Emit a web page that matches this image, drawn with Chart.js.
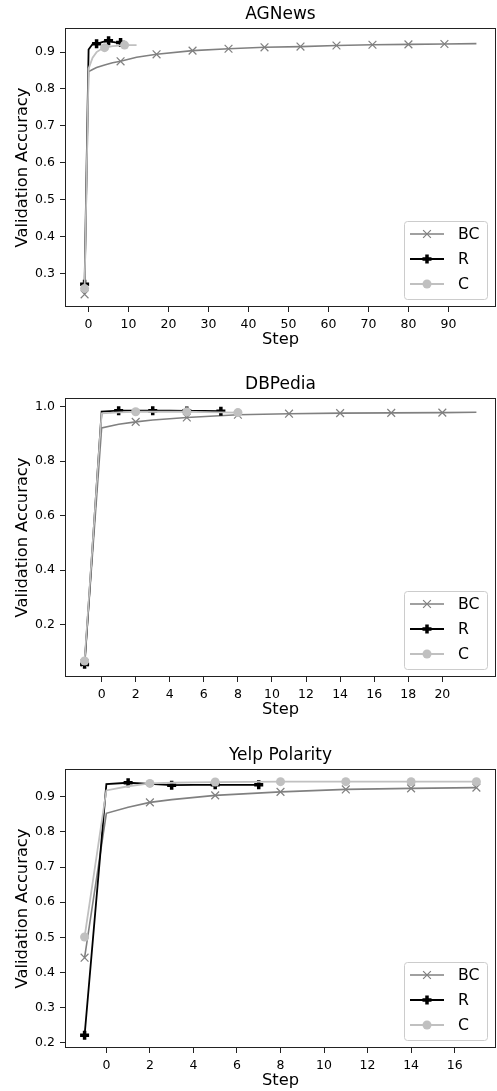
<!DOCTYPE html>
<html>
<head>
<meta charset="utf-8">
<script src="https://cdn.jsdelivr.net/npm/chart.js@4"></script>
<style>
  html, body { margin: 0; background: #fff; overflow: hidden; }
  canvas { position: absolute; left: 0; }
</style>
</head>
<body>
<canvas id="agChart" width="497" height="350" style="top:0px"></canvas>
<canvas id="dbChart" width="497" height="350" style="top:370px"></canvas>
<canvas id="yelpChart" width="497" height="350" style="top:741px"></canvas>
<script>
// AGNews
const agBcSteps = [-1, 0, 1, 2, 4, 6, 8, 12, 17, 26, 35, 44, 53, 62, 71, 80, 89, 97];
const agBcAcc   = [0.243, 0.847, 0.853, 0.858, 0.865, 0.871, 0.875, 0.886, 0.894, 0.904, 0.909, 0.913, 0.915, 0.918, 0.920, 0.921, 0.922, 0.923];
const agRSteps  = [-1, 0, 1, 2, 3, 4, 5, 6, 7, 8];
const agRAcc    = [0.270, 0.907, 0.922, 0.923, 0.926, 0.929, 0.931, 0.928, 0.926, 0.926];
const agCSteps  = [-1, 0, 1, 2, 3, 4, 5, 6, 7, 8, 9, 10, 11, 12];
const agCAcc    = [0.259, 0.855, 0.885, 0.900, 0.907, 0.912, 0.914, 0.916, 0.917, 0.918, 0.919, 0.919, 0.919, 0.919];
const agXTicks  = [0, 10, 20, 30, 40, 50, 60, 70, 80, 90];
const agYTicks  = [0.3, 0.4, 0.5, 0.6, 0.7, 0.8, 0.9];

// DBPedia
const dbBcSteps = [-1, 0, 1, 2, 3, 5, 8, 11, 14, 17, 20, 22];
const dbBcAcc   = [0.060, 0.922, 0.935, 0.944, 0.951, 0.960, 0.970, 0.974, 0.976, 0.977, 0.978, 0.979];
const dbRSteps  = [-1, 0, 1, 2, 3, 4, 5, 6, 7];
const dbRAcc    = [0.055, 0.982, 0.985, 0.985, 0.985, 0.985, 0.984, 0.984, 0.983];
const dbCSteps  = [-1, 0, 1, 2, 3, 4, 5, 6, 7, 8];
const dbCAcc    = [0.067, 0.975, 0.979, 0.981, 0.981, 0.981, 0.981, 0.980, 0.979, 0.978];
const dbXTicks  = [0, 2, 4, 6, 8, 10, 12, 14, 16, 18, 20];
const dbYTicks  = [0.2, 0.4, 0.6, 0.8, 1.0];

// Yelp Polarity
const yelpBcSteps = [-1, 0, 1, 2, 3, 5, 8, 11, 14, 17];
const yelpBcAcc   = [0.442, 0.853, 0.870, 0.884, 0.892, 0.904, 0.914, 0.921, 0.924, 0.926];
const yelpRSteps  = [-1, 0, 1, 2, 3, 4, 5, 6, 7];
const yelpRAcc    = [0.221, 0.936, 0.940, 0.937, 0.933, 0.934, 0.934, 0.934, 0.934];
const yelpCSteps  = [-1, 0, 1, 2, 3, 4, 5, 8, 11, 14, 17];
const yelpCAcc    = [0.501, 0.918, 0.930, 0.938, 0.940, 0.941, 0.942, 0.943, 0.943, 0.943, 0.943];
const yelpXTicks  = [0, 2, 4, 6, 8, 10, 12, 14, 16];
const yelpYTicks  = [0.2, 0.3, 0.4, 0.5, 0.6, 0.7, 0.8, 0.9];

const FONT = "'DejaVu Sans', 'Noto Sans', sans-serif";
Chart.defaults.font.family = FONT;
Chart.defaults.color = '#000';

const STYLES = {
    BC: { color: '#808080', width: 1.6, point: 'crossRot', radius: 5.5, pointWidth: 1.2, order: 2 },
    R:  { color: '#000000', width: 1.8, point: 'cross', radius: 4.5, pointWidth: 3.5, order: 1 },
    C:  { color: '#c0c0c0', width: 1.8, point: 'circle', radius: 4.5, pointWidth: 0, order: 0 }
};

function series(label, steps, acc, every) {
    const s = STYLES[label];
    return {
        label: label,
        data: steps.map((x, i) => ({ x: x, y: acc[i] })),
        borderColor: s.color,
        backgroundColor: s.color,
        borderWidth: s.width,
        pointStyle: s.point,
        pointBorderColor: s.color,
        pointBackgroundColor: s.color,
        pointBorderWidth: s.pointWidth,
        pointRadius: ctx => ((ctx.raw.x - steps[0]) % every === 0 ? s.radius : 0),
        tension: 0,
        order: s.order
    };
}

function drawMarker(ctx, label, x, y) {
    const s = STYLES[label];
    ctx.save();
    ctx.strokeStyle = s.color;
    ctx.fillStyle = s.color;
    if (s.point === 'crossRot') {
        const d = s.radius * Math.SQRT1_2;
        ctx.lineWidth = s.pointWidth;
        ctx.beginPath();
        ctx.moveTo(x - d, y - d); ctx.lineTo(x + d, y + d);
        ctx.moveTo(x - d, y + d); ctx.lineTo(x + d, y - d);
        ctx.stroke();
    } else if (s.point === 'cross') {
        ctx.lineWidth = s.pointWidth;
        ctx.beginPath();
        ctx.moveTo(x - s.radius, y); ctx.lineTo(x + s.radius, y);
        ctx.moveTo(x, y - s.radius); ctx.lineTo(x, y + s.radius);
        ctx.stroke();
    } else {
        ctx.beginPath();
        ctx.arc(x, y, s.radius, 0, Math.PI * 2);
        ctx.fill();
    }
    ctx.restore();
}

const framePlugin = {
    id: 'frame',
    afterDatasetsDraw(chart) {
        const a = chart.chartArea;
        const ctx = chart.ctx;
        ctx.save();
        ctx.strokeStyle = '#222';
        ctx.lineWidth = 1;
        const l = Math.round(a.left) + 0.5, t = Math.round(a.top) + 0.5;
        const r = Math.round(a.right) - 0.5, b = Math.round(a.bottom) - 0.5;
        ctx.strokeRect(l, t, r - l, b - t);
        ctx.restore();
    },
    afterDraw(chart) {
        // legend in the lower right of the plot area
        const a = chart.chartArea;
        const ctx = chart.ctx;
        const w = 83, h = 78;
        const bx = a.right - 9 - w, by = a.bottom - 8 - h;
        ctx.save();
        ctx.fillStyle = 'rgba(255,255,255,0.85)';
        ctx.strokeStyle = '#cccccc';
        ctx.lineWidth = 1;
        ctx.beginPath();
        ctx.roundRect(Math.round(bx) + 0.5, Math.round(by) + 0.5, w, h, 3);
        ctx.fill();
        ctx.stroke();
        ['BC', 'R', 'C'].forEach((label, i) => {
            const s = STYLES[label];
            const y = by + 13 + i * 25;
            ctx.strokeStyle = s.color;
            ctx.lineWidth = s.width;
            ctx.beginPath();
            ctx.moveTo(bx + 6, y);
            ctx.lineTo(bx + 40, y);
            ctx.stroke();
            drawMarker(ctx, label, bx + 23, y);
            ctx.fillStyle = '#000';
            ctx.font = '15.7px ' + FONT;
            ctx.textBaseline = 'middle';
            ctx.textAlign = 'left';
            ctx.fillText(label, bx + 54, y + 1);
        });
        ctx.restore();
    }
};

function padRange(arrays) {
    const all = [].concat(...arrays);
    const lo = Math.min(...all), hi = Math.max(...all);
    const m = (hi - lo) * 0.05;
    return { min: lo - m, max: hi + m };
}

function makeChart(id, title, datasets, xTicks, yTicks) {
    const xr = padRange(datasets.map(d => d.data.map(p => p.x)));
    const yr = padRange(datasets.map(d => d.data.map(p => p.y)));
    return new Chart(document.getElementById(id).getContext('2d'), {
        type: 'line',
        data: { datasets: datasets },
        options: {
            responsive: false,
            animation: false,
            events: [],
            layout: { autoPadding: false, padding: { left: 0, right: 1, top: 0, bottom: 0 } },
            scales: {
                x: {
                    type: 'linear',
                    min: xr.min,
                    max: xr.max,
                    afterBuildTicks: scale => { scale.ticks = xTicks.map(v => ({ value: v })); },
                    afterFit: scale => {
                        scale.height = 43;
                        scale.paddingLeft = 0;
                        scale.paddingRight = 0;
                    },
                    grid: { drawOnChartArea: false, drawTicks: true, tickLength: 5, tickColor: '#222' },
                    border: { display: false },
                    ticks: { font: { size: 12.5 }, padding: 5, maxRotation: 0, color: '#000', callback: v => String(v) },
                    title: { display: true, text: 'Step', font: { size: 16.3 }, padding: { top: 0, bottom: 0.5 }, color: '#000' }
                },
                y: {
                    min: yr.min,
                    max: yr.max,
                    afterBuildTicks: scale => { scale.ticks = yTicks.map(v => ({ value: v })); },
                    afterFit: scale => {
                        scale.width = 65;
                        scale.paddingTop = 0;
                        scale.paddingBottom = 0;
                    },
                    grid: { drawOnChartArea: false, drawTicks: true, tickLength: 5, tickColor: '#222' },
                    border: { display: false },
                    ticks: { font: { size: 12.5 }, padding: 5, color: '#000', callback: v => v.toFixed(1) },
                    title: { display: true, text: 'Validation Accuracy', font: { size: 16.3 }, padding: { top: 13, bottom: 0 }, color: '#000' }
                }
            },
            plugins: {
                legend: { display: false },
                tooltip: { enabled: false },
                title: {
                    display: true,
                    text: title,
                    fullSize: false,
                    color: '#000',
                    font: { size: 17, weight: 'normal' },
                    padding: { top: 4, bottom: 3.6 }
                }
            }
        },
        plugins: [framePlugin]
    });
}

makeChart('agChart', 'AGNews', [
    series('BC', agBcSteps, agBcAcc, 9),
    series('R', agRSteps, agRAcc, 3),
    series('C', agCSteps, agCAcc, 5)
], agXTicks, agYTicks);

makeChart('dbChart', 'DBPedia', [
    series('BC', dbBcSteps, dbBcAcc, 3),
    series('R', dbRSteps, dbRAcc, 2),
    series('C', dbCSteps, dbCAcc, 3)
], dbXTicks, dbYTicks);

makeChart('yelpChart', 'Yelp Polarity', [
    series('BC', yelpBcSteps, yelpBcAcc, 3),
    series('R', yelpRSteps, yelpRAcc, 2),
    series('C', yelpCSteps, yelpCAcc, 3)
], yelpXTicks, yelpYTicks);
</script>
</body>
</html>
